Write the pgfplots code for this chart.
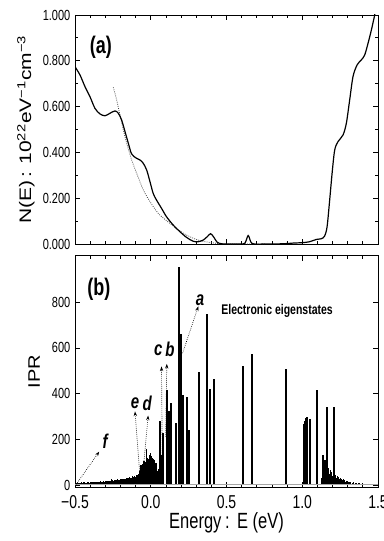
\documentclass[border=0pt]{standalone}
\usepackage{fontspec}
\setmainfont[FakeStretch=0.75]{Liberation Sans}
\newfontfamily\wide{Liberation Sans}
\usepackage{graphicx}
\usepackage{pgfplots}
\pgfplotsset{compat=1.18}
\usetikzlibrary{arrows.meta}
\pgfplotsset{
 myaxis/.style={
  scale only axis, width=227.25pt, xmin=-0.5, xmax=1.5,
  tick align=inside, xtick={-0.5,0,0.5,1,1.5}, minor x tick num=4,
  major tick length=4pt, minor tick length=2.5pt,
  axis line style={line width=0.7pt},
  every tick/.style={black, line width=0.6pt},
  /pgf/number format/assume math mode=true,
  yticklabel style={font=\fontsize{11}{13}\selectfont},
  xticklabel style={font=\fontsize{14}{16}\selectfont, yshift=-3pt},
  clip=true,
 },
}
\tikzset{
 lab/.style={font=\fontsize{15}{17}\selectfont\bfseries\itshape, inner sep=0pt},
 arr/.style={densely dotted, line width=0.5pt, -{Stealth[length=3.5pt,width=2.5pt]}},
}
\begin{document}
\begin{tikzpicture}
% ---------- (a) density of states ----------
\begin{axis}[myaxis, at={(56.25pt,-183pt)}, anchor=south west, height=171.75pt,
  ymin=0, ymax=1, ytick={0,0.2,0.4,0.6,0.8,1}, minor y tick num=1,
  yticklabels={0.000,0.200,0.400,0.600,0.800,1.000}, xticklabels={},
  ylabel={\scalebox{1.26}[1]{\wide\fontsize{12.5}{14}\selectfont N(E)\,:\,\,10\textsuperscript{22}eV\textsuperscript{−1}cm\textsuperscript{−3}}},
  ylabel style={at={(axis description cs:-0.162,0.5)}, anchor=center}]
\addplot[black!75, densely dotted, line width=0.6pt, smooth] coordinates {
(-0.247,0.684) (-0.225,0.629) (-0.203,0.563) (-0.181,0.498) (-0.159,0.440)
(-0.126,0.367) (-0.093,0.309) (-0.049,0.236) (-0.005,0.185) (0.049,0.134)
(0.104,0.102) (0.170,0.068) (0.236,0.039) (0.324,0.015) (0.434,0.003)
(0.544,0.0) (0.76,0.0)};
\addplot[black, line width=0.9pt, smooth, tension=0.5] coordinates {
(-0.500,0.774) (-0.467,0.738) (-0.434,0.687) (-0.401,0.643) (-0.368,0.592)
(-0.335,0.568) (-0.302,0.560) (-0.269,0.571) (-0.236,0.581) (-0.214,0.571)
(-0.192,0.541) (-0.170,0.491) (-0.148,0.440) (-0.126,0.393) (-0.093,0.374)
(-0.071,0.367) (-0.049,0.352) (-0.027,0.323) (-0.005,0.272) (0.016,0.221)
(0.038,0.192) (0.071,0.156) (0.104,0.119) (0.148,0.083) (0.192,0.054)
(0.236,0.029) (0.280,0.012) (0.313,0.010) (0.346,0.017) (0.373,0.032)
(0.395,0.045) (0.416,0.030) (0.438,0.008) (0.467,0.001) (0.522,0.0)
(0.588,0.0) (0.621,0.003) (0.643,0.037) (0.660,0.010) (0.680,0.0)
(0.764,0.0) (0.874,0.001) (0.940,0.004) (1.005,0.006) (1.049,0.010)
(1.093,0.020) (1.126,0.023) (1.148,0.035) (1.164,0.076) (1.181,0.192)
(1.197,0.309) (1.214,0.410) (1.236,0.447) (1.269,0.476) (1.291,0.527)
(1.313,0.629) (1.335,0.731) (1.362,0.782) (1.390,0.804) (1.412,0.825)
(1.434,0.876) (1.456,0.934) (1.478,1.0) (1.49,1.05)};
\node[font=\fontsize{18}{20}\selectfont\bfseries, anchor=center] at (axis cs:-0.33,0.858) {(a)};
\end{axis}
% ---------- (b) IPR ----------
\begin{axis}[myaxis, at={(56.25pt,-365.25pt)}, anchor=south west, height=173.5pt,
  ymin=-9, ymax=1004, ytick={0,200,400,600,800},
  xticklabels={−0.5,0.0,0.5,1.0,1.5},
  ylabel={\scalebox{1.2}[1]{\wide\fontsize{12.5}{14}\selectfont IPR}},
  ylabel style={at={(axis description cs:-0.135,0.5)}, anchor=center},
  xlabel={\fontsize{16.5}{18}\selectfont Energy\,:\,\,E (eV)},
  xlabel style={at={(axis description cs:0.5,0)}, anchor=center, yshift=-27pt}]
% background noise of states
\addplot[ycomb, black, line width=0.9pt] coordinates {
(-0.495,6) (-0.49,8) (-0.485,5) (-0.48,9) (-0.475,7) (-0.47,10) (-0.465,6) (-0.46,8)
(-0.455,11) (-0.45,7) (-0.445,9) (-0.44,12) (-0.435,8) (-0.43,10) (-0.425,7) (-0.42,11)
(-0.415,9) (-0.41,13) (-0.405,8) (-0.40,10) (-0.395,12) (-0.39,9) (-0.385,14) (-0.38,10)
(-0.375,12) (-0.37,9) (-0.365,13) (-0.36,11) (-0.355,15) (-0.35,10) (-0.345,12) (-0.34,14)
(-0.335,11) (-0.33,16) (-0.325,12) (-0.32,14) (-0.315,13) (-0.31,17) (-0.305,12) (-0.30,15)
(-0.295,18) (-0.29,13) (-0.285,16) (-0.28,14) (-0.275,19) (-0.27,15) (-0.265,17) (-0.26,28)
(-0.255,16) (-0.25,20) (-0.245,17) (-0.24,22) (-0.235,18) (-0.23,21) (-0.225,19) (-0.22,24)
(-0.215,20) (-0.21,23) (-0.205,21) (-0.20,26) (-0.195,22) (-0.19,25) (-0.185,23) (-0.18,28)
(-0.175,24) (-0.17,27) (-0.165,25) (-0.16,30) (-0.155,26) (-0.15,29) (-0.145,27) (-0.14,33)
(-0.135,28) (-0.13,31) (-0.125,30) (-0.12,38) (-0.115,32) (-0.11,35) (-0.105,40) (-0.10,36)
(-0.095,42) (-0.09,38) (-0.085,45) (-0.08,50) (-0.075,62) (-0.07,80) (-0.065,88) (-0.06,75)
(-0.055,92) (-0.05,70) (-0.045,105) (-0.04,85) (-0.035,100) (-0.03,158) (-0.025,120) (-0.02,95)
(-0.015,115) (-0.01,110) (-0.005,130) (0.0,138) (0.005,125) (0.01,120) (0.015,112) (0.02,105)
(0.025,108) (0.03,98) (0.035,96) (0.04,90) (0.045,60) (0.05,70) (0.055,40)
(1.13,30) (1.135,45) (1.145,90) (1.155,70) (1.16,85) (1.17,55) (1.175,75) (1.18,50)
(1.185,65) (1.19,45) (1.195,55) (1.20,40) (1.205,50) (1.215,35) (1.22,45) (1.225,30)
(1.23,38) (1.235,28) (1.24,33) (1.245,25) (1.25,30) (1.255,22) (1.26,27) (1.265,20)
(1.27,24) (1.275,17) (1.28,21) (1.285,15) (1.29,19) (1.295,13) (1.30,16) (1.305,11)
(1.31,14) (1.315,10) (1.32,12) (1.33,9) (1.34,11) (1.35,8) (1.36,9) (1.37,7)
(1.38,8) (1.39,6) (1.40,7) (1.41,5) (1.42,6) (1.43,5) (1.44,4) (1.45,4) (1.46,3)};
% localized eigenstates
\addplot[ycomb, black, line width=1.5pt] coordinates {
(0.062,278) (0.071,130) (0.078,212) (0.084,227) (0.109,417) (0.118,322) (0.134,361)
(0.167,272) (0.186,953) (0.200,661) (0.211,392) (0.216,250) (0.242,383) (0.255,241)
(0.321,494) (0.369,749) (0.393,421) (0.418,465) (0.610,523) (0.669,573) (0.896,509)
(1.014,266) (1.020,280) (1.025,292) (1.033,297) (1.051,288) (1.099,417) (1.139,132)
(1.150,110) (1.165,343) (1.212,343)};
% baseline band
\addplot[gray!70, line width=1.2pt] coordinates {(-0.5,2) (1.5,2)};
\node[font=\fontsize{18}{20}\selectfont\bfseries, anchor=center] at (axis cs:-0.342,855) {(b)};
\node[font=\fontsize{10.5}{13}\selectfont\bfseries, anchor=west] at (axis cs:0.435,760) {Electronic eigenstates};
\node[lab] at (axis cs:0.325,811) {a};
\node[lab] at (axis cs:0.127,592) {b};
\node[lab] at (axis cs:0.050,592) {c};
\node[lab] at (axis cs:-0.023,359) {d};
\node[lab] at (axis cs:-0.104,359) {e};
\node[lab] at (axis cs:-0.302,190) {f};
\draw[arr] (axis cs:0.210,577) -- (axis cs:0.314,782);
\draw[arr] (axis cs:0.098,212) -- (axis cs:0.106,530);
\draw[arr] (axis cs:0.076,124) -- (axis cs:0.071,519);
\draw[arr] (axis cs:-0.071,37) -- (axis cs:-0.104,322);
\draw[arr] (axis cs:-0.054,37) -- (axis cs:-0.017,304);
\draw[arr] (axis cs:-0.493,2) -- (axis cs:-0.340,146);
\end{axis}
\pgfresetboundingbox
\useasboundingbox (0,0) rectangle (287.25pt,-405.75pt);
\end{tikzpicture}
\end{document}
